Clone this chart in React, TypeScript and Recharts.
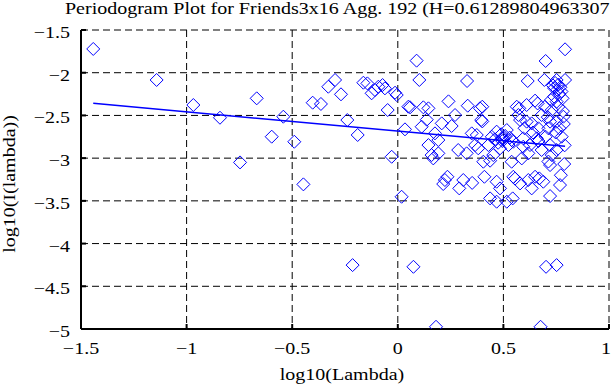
import React from 'react';
import { ScatterChart, Scatter, XAxis, YAxis, CartesianGrid } from 'recharts';

// log10(Lambda) values of the periodogram points
const logLambda: number[] = [
  -1.442, -1.142, -0.968, -0.842, -0.747, -0.668, -0.597, -0.542, -0.49, -0.447,
  -0.403, -0.364, -0.329, -0.297, -0.269, -0.239, -0.214, -0.19, -0.163, -0.144,
  -0.124, -0.108, -0.092, -0.072, -0.061, -0.048, -0.029, -0.013, -0.005,
  0.018, 0.034, 0.05, 0.058, 0.074, 0.089, 0.102, 0.113, 0.121, 0.137,
  0.145, 0.145, 0.16, 0.168, 0.176, 0.181, 0.192, 0.192, 0.208, 0.215,
  0.223, 0.235, 0.24,
  0.255, 0.271, 0.286, 0.291, 0.31, 0.326, 0.328, 0.331, 0.35, 0.352,
  0.366, 0.374, 0.381, 0.389, 0.395, 0.4, 0.4, 0.405, 0.41, 0.429,
  0.437, 0.437, 0.445, 0.452, 0.46, 0.468, 0.468, 0.468, 0.475, 0.484,
  0.484, 0.49, 0.492, 0.495,
  0.5, 0.508, 0.516, 0.516, 0.524, 0.53, 0.539, 0.539, 0.544, 0.547,
  0.547, 0.555, 0.563, 0.571, 0.575, 0.579, 0.579, 0.587, 0.594, 0.594,
  0.6, 0.61, 0.61, 0.615, 0.618, 0.618, 0.626, 0.634, 0.634, 0.64,
  0.65, 0.65, 0.658, 0.662, 0.666, 0.666, 0.67, 0.676, 0.681, 0.681,
  0.689, 0.694, 0.697, 0.7, 0.7, 0.702, 0.71, 0.713, 0.713, 0.721,
  0.721, 0.721, 0.721, 0.725, 0.729, 0.729, 0.735, 0.74, 0.74, 0.745,
  0.748, 0.752, 0.752, 0.752, 0.752, 0.752, 0.755, 0.76, 0.76, 0.765,
  0.765, 0.768, 0.77, 0.772, 0.775, 0.776, 0.78, 0.782, 0.784, 0.786,
  0.788, 0.79, 0.792, 0.792,
];

// log10(I(lambda)) values, same order
const logPower: number[] = [
  -1.722, -2.085, -2.378, -2.527, -3.05, -2.3, -2.749, -2.515, -2.808, -3.307,
  -2.351, -2.366, -2.164, -2.085, -2.253, -2.554, -4.252, -2.729, -2.117, -2.125,
  -2.241, -2.203, -2.164, -2.144, -2.183, -2.437, -2.984, -2.234, -2.261,
  -3.452, -2.663, -2.398, -2.405, -4.272, -1.859, -2.085, -2.632, -2.405, -2.55,
  -2.847, -2.417, -2.964, -3.003, -2.71, -4.974, -2.944, -2.788, -2.593, -3.303,
  -3.256, -3.218, -2.335,
  -2.624, -2.495, -2.905, -3.354, -3.256, -2.944, -2.097, -2.386, -2.71, -3.29,
  -2.847, -2.729, -2.885, -2.417, -2.554, -2.398, -2.57, -3.042, -3.218, -2.847,
  -3.03, -3.471, -2.75, -2.964, -2.78, -2.69, -3.276, -3.51, -2.82, -2.885,
  -3.354, -2.72, -2.768, -2.8,
  -2.768, -2.74, -2.671, -3.51, -2.847, -2.76, -2.788, -3.042, -3.471, -2.808,
  -3.218, -3.24, -2.398, -2.495, -2.417, -2.554, -3.296, -3.003, -2.866, -2.768,
  -2.65, -2.378, -2.573, -2.097, -2.944, -3.256, -2.847, -2.593, -3.354, -2.7,
  -2.327, -3.218, -2.768, -2.36, -2.651, -2.8, -3.237, -4.974, -2.905, -2.495,
  -3.276, -2.085, -2.398, -1.863, -2.75, -4.272, -2.52, -2.651, -3.04, -2.573,
  -2.847, -3.081, -3.444, -2.32, -2.437, -2.964, -2.15, -2.18, -2.28, -2.12,
  -2.7, -2.085, -2.339, -2.573, -2.905, -4.252, -2.2, -2.14, -2.4, -2.25,
  -2.65, -3.315, -2.17, -3.2, -2.22, -2.749, -2.3, -2.45, -2.515, -2.6,
  -3.069, -2.85, -1.726, -2.085,
];

// least-squares fit line endpoints (slope = 1 - 2H)
const fitLambda: number[] = [-1.442, 0.792];
const fitPower: number[] = [-2.358, -2.862];

const xTicks: number[] = [-1.5, -1, -0.5, 0, 0.5, 1];
const yTicks: number[] = [-5, -4.5, -4, -3.5, -3, -2.5, -2, -1.5];

const titleText = 'Periodogram Plot for Friends3x16 Agg. 192 (H=0.61289804963307';
const xLabel = 'log10(Lambda)';
const yLabel = 'log10(I(lambda))';

const points = logLambda.map((x, i) => ({ x, y: logPower[i] }));
const fitData = fitLambda.map((x, i) => ({ x, y: fitPower[i] }));

const FONT = '"Liberation Serif", "Times New Roman", serif';
const SX = 1.25;
const BLUE = '#0000ff';

const fmt = (v: number) => (v < 0 ? '\u2212' + String(Math.abs(v)) : String(v));

const XTick = (props: any) => {
  const { x, y, payload, index, visibleTicksCount } = props;
  const last = index === visibleTicksCount - 1;
  return (
    <text
      transform={`translate(${last ? x + 2 : x},${y}) scale(${SX},1)`}
      textAnchor={last ? 'end' : 'middle'}
      fontFamily={FONT}
      fontSize={16}
      fill="#000"
    >
      {fmt(payload.value)}
    </text>
  );
};

const YTick = (props: any) => {
  const { x, y, payload } = props;
  return (
    <text
      transform={`translate(${x},${y + 8}) scale(${SX},1)`}
      textAnchor="end"
      fontFamily={FONT}
      fontSize={16}
      fill="#000"
    >
      {fmt(payload.value)}
    </text>
  );
};

const Diamond = (props: any) => {
  const { cx, cy } = props;
  if (cx == null || cy == null) return <g />;
  const r = 6.5;
  return (
    <path
      d={`M${cx},${cy - r}L${cx + r},${cy}L${cx},${cy + r}L${cx - r},${cy}Z`}
      fill="none"
      stroke={BLUE}
      strokeWidth={1}
    />
  );
};

const NoShape = () => <g />;

export default function App() {
  return (
    <div style={{ position: 'absolute', left: 0, top: 0, width: 611, height: 385, background: '#fff' }}>
      <ScatterChart
        width={611}
        height={385}
        margin={{ top: 30, right: 2, bottom: 26, left: 21 }}
        style={{ background: '#fff' }}
      >
        <CartesianGrid
          xAxisId="b"
          yAxisId="l"
          stroke="#000"
          strokeWidth={1}
          strokeDasharray="7 4"
          fill="none"
        />
        <XAxis
          xAxisId="b"
          dataKey="x"
          type="number"
          orientation="bottom"
          domain={[-1.5, 1]}
          ticks={xTicks}
          allowDataOverflow
          height={30}
          tickSize={-5}
          tickMargin={30}
          tickLine={{ stroke: '#000', strokeWidth: 2 }}
          axisLine={{ stroke: '#000', strokeWidth: 2 }}
          tick={<XTick />}
          interval={0}
        />
        <XAxis
          xAxisId="t"
          dataKey="x"
          type="number"
          orientation="top"
          domain={[-1.5, 1]}
          ticks={xTicks}
          allowDataOverflow
          height={0}
          tickSize={-5}
          tickLine={{ stroke: '#000', strokeWidth: 2 }}
          axisLine={{ stroke: '#000', strokeWidth: 2 }}
          tick={false}
          interval={0}
        />
        <YAxis
          yAxisId="l"
          dataKey="y"
          type="number"
          orientation="left"
          domain={[-5, -1.5]}
          ticks={yTicks}
          allowDataOverflow
          width={60}
          tickSize={-5}
          tickMargin={16}
          tickLine={{ stroke: '#000', strokeWidth: 2 }}
          axisLine={{ stroke: '#000', strokeWidth: 2 }}
          tick={<YTick />}
          interval={0}
        />
        <YAxis
          yAxisId="r"
          dataKey="y"
          type="number"
          orientation="right"
          domain={[-5, -1.5]}
          ticks={yTicks}
          allowDataOverflow
          width={0}
          tickSize={-5}
          tickLine={{ stroke: '#000', strokeWidth: 2 }}
          axisLine={{ stroke: '#000', strokeWidth: 2 }}
          tick={false}
          interval={0}
        />
        <Scatter
          xAxisId="b"
          yAxisId="l"
          data={points}
          shape={<Diamond />}
          isAnimationActive={false}
        />
        <Scatter
          xAxisId="b"
          yAxisId="l"
          data={fitData}
          line={{ stroke: BLUE, strokeWidth: 1.5 }}
          shape={<NoShape />}
          isAnimationActive={false}
        />
      </ScatterChart>
      <svg
        width={611}
        height={385}
        style={{ position: 'absolute', left: 0, top: 0, pointerEvents: 'none', overflow: 'hidden' }}
      >
        <text transform={`translate(65,14) scale(${SX},1)`} fontFamily={FONT} fontSize={16} fill="#000">
          {titleText}
        </text>
        <text transform={`translate(342,380) scale(${SX},1)`} textAnchor="middle" fontFamily={FONT} fontSize={16} fill="#000">
          {xLabel}
        </text>
        <text transform={`translate(15,184) rotate(-90) scale(${SX},1)`} textAnchor="middle" fontFamily={FONT} fontSize={16} fill="#000">
          {yLabel}
        </text>
      </svg>
    </div>
  );
}
